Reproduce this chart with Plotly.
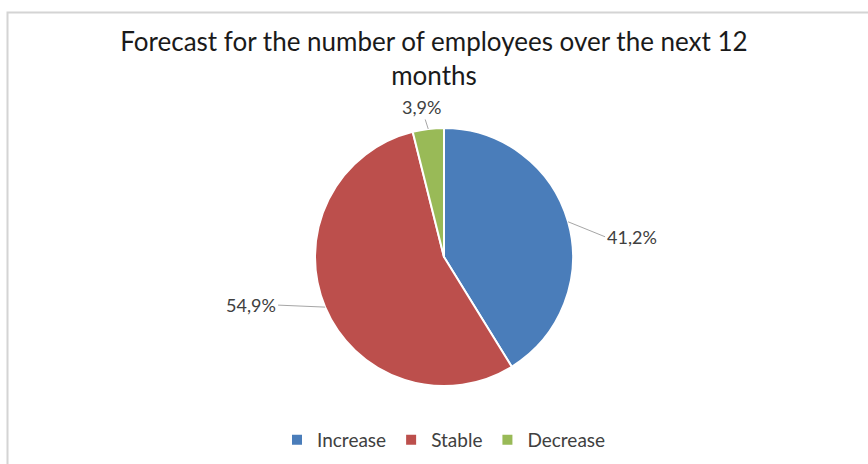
import math
import plotly.graph_objects as go

# Forecast shares by category
categories = ["Increase", "Stable", "Decrease"]
shares = [41.2, 54.9, 3.9]
colors = ["#4A7DBA", "#BC4F4C", "#99BA57"]
title_lines = ["Forecast for the number of employees over the next 12", "months"]

# Canvas and pie geometry (pixels)
W, H = 868, 464
CX, CY, R = 444, 257, 129

# Leader-line offsets (pixels from slice edge to label) and label anchors
label_offsets = [(37, 15), (-47, -2), (-7, -22)]
label_anchors = [("left", "middle"), ("right", "middle"), ("center", "middle")]

FONT = "Lato, 'Open Sans', sans-serif"


def to_paper(x, y):
    return x / W, 1 - y / H


fig = go.Figure()
fig.add_trace(go.Pie(
    labels=categories,
    values=shares,
    sort=False,
    direction="clockwise",
    rotation=0,
    marker=dict(colors=colors, line=dict(color="white", width=2)),
    textinfo="none",
    hoverinfo="label+percent",
    domain=dict(x=[(CX - R - 40) / W, (CX + R + 40) / W],
                y=[1 - (CY + R) / H, 1 - (CY - R) / H]),
))

# Data labels with leader lines, placed at each slice's mid angle
total = sum(shares)
cum = 0.0
annotations = []
for v, (dx, dy), (xa, ya) in zip(shares, label_offsets, label_anchors):
    mid = (cum + v / 2) / total * 2 * math.pi
    cum += v
    hx = CX + R * math.sin(mid)
    hy = CY - R * math.cos(mid)
    px, py = to_paper(hx, hy)
    annotations.append(dict(
        x=px, y=py, xref="paper", yref="paper",
        text=f"{v:.1f}".replace(".", ",") + "%",
        showarrow=True, arrowhead=0, arrowwidth=1, arrowcolor="#A6A6A6",
        ax=dx, ay=dy, standoff=0, startstandoff=0,
        xanchor=xa, yanchor=ya,
        font=dict(family=FONT, size=18, color="#404040"),
    ))

fig.update_layout(
    width=W, height=H,
    margin=dict(l=0, r=0, t=0, b=0),
    paper_bgcolor="white",
    plot_bgcolor="white",
    title=dict(
        text="<br>".join(title_lines),
        x=434 / W, xanchor="center",
        y=1 - 51 / H, yanchor="top",
        font=dict(family=FONT, size=26, color="#1A1A1A"),
    ),
    legend=dict(
        orientation="h",
        x=444 / W, xanchor="center",
        y=1 - 440 / H, yanchor="middle",
        font=dict(family=FONT, size=19, color="#404040"),
        traceorder="normal",
    ),
    annotations=annotations,
    shapes=[dict(
        type="rect", xref="paper", yref="paper",
        x0=7.5 / W, y0=1 - 12.5 / H, x1=1.05, y1=-0.05,
        line=dict(color="#D4D4D4", width=2),
        fillcolor="rgba(0,0,0,0)", layer="below",
    )],
)

fig.write_html("out.html")
